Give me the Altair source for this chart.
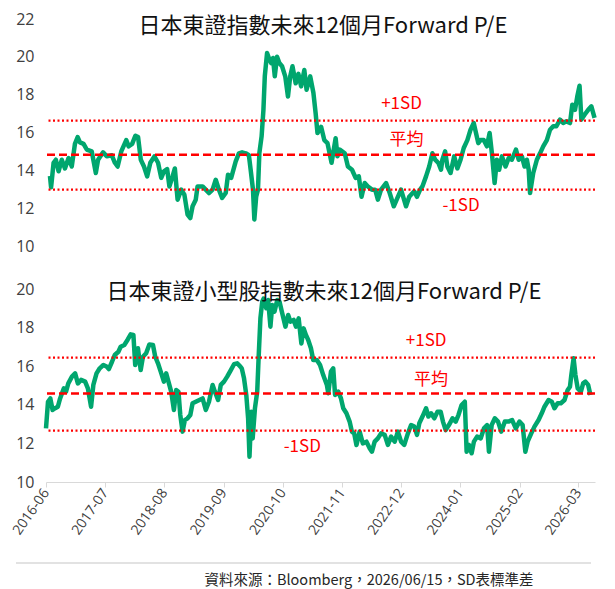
import altair as alt
import pandas as pd

START = pd.Timestamp("2016-06-01")
DAYS_PER_MONTH = 30.4375

# ---- data (months after 2016-06, P/E) ----
top_months = [0.0, 0.25, 0.8, 1.3, 1.9, 2.6, 3.3, 4.1, 4.8, 5.5, 6.1, 6.6, 7.4, 8.1, 9.2, 10.1, 10.6,
              11.7, 12.5, 13.6, 14.3, 14.9, 15.7, 16.8, 17.3, 18.1, 18.8, 19.4, 20.0, 20.7, 21.4, 22.1,
              23.0, 23.8, 24.5, 25.1, 25.8, 26.3, 27.0, 27.5, 28.1, 28.9, 29.6, 30.3, 30.9, 31.4, 32.1,
              32.5, 33.6, 34.3, 35.0, 35.8, 36.5, 37.2, 37.9, 38.7, 39.2, 39.9, 40.9, 41.6, 42.3, 43.1,
              43.8, 44.2, 44.7, 45.0, 45.4, 45.8, 46.1, 46.6, 47.0, 47.3, 47.8, 48.2, 48.7, 49.1, 49.5,
              50.0, 50.5, 51.1, 51.8, 52.4, 52.9, 53.4, 54.1, 54.7, 55.3, 56.0, 56.5, 57.3, 58.0, 58.5,
              58.9, 59.7, 60.4, 61.1, 62.0, 62.9, 63.3, 63.8, 64.9, 65.6, 66.5, 67.3, 68.0, 68.6, 69.3,
              70.0, 70.9, 71.6, 72.2, 72.9, 74.0, 74.8, 75.7, 76.6, 77.3, 78.4, 79.1, 80.2, 80.8, 81.5,
              82.0, 82.8, 83.5, 84.2, 84.8, 85.5, 86.1, 86.4, 87.0, 87.5, 88.2, 89.0, 89.7, 90.4, 91.1,
              91.9, 92.6, 93.3, 93.8, 94.3, 94.8, 95.5, 96.2, 96.8, 97.3, 97.9, 98.4, 98.9, 99.5, 100.3,
              101.0, 101.7, 102.6, 103.2, 103.9, 104.5, 105.0, 105.4, 105.7, 106.4, 107.2, 107.9, 108.6,
              109.4, 110.1, 110.8, 111.5, 112.3, 113.0, 113.7, 114.5, 115.0, 115.6, 116.1, 116.6, 117.0,
              117.7, 118.5, 119.2, 119.9]
top_values = [13.7, 13.1, 14.4, 14.56, 13.95, 14.56, 14.1, 14.65, 14.2, 15.4, 15.76, 15.48, 15.4, 15.1,
              15.0, 13.86, 14.56, 14.95, 14.74, 14.8, 14.4, 14.2, 15.0, 15.6, 15.27, 15.4, 15.83, 15.76,
              14.56, 14.2, 13.68, 14.4, 14.74, 14.4, 13.6, 13.95, 14.07, 13.15, 13.68, 14.1, 12.45, 12.98,
              12.71, 11.66, 11.48, 12.1, 12.45, 13.15, 13.15, 12.98, 12.8, 12.98, 13.5, 12.98, 12.54, 12.8,
              13.77, 13.6, 14.47, 14.9, 14.95, 14.9, 14.8, 14.0, 12.98, 11.4, 12.6, 12.98, 14.9, 15.8,
              17.2, 18.97, 20.2, 19.94, 19.67, 19.94, 18.97, 20.0, 19.67, 19.5, 18.97, 17.9, 18.97, 19.5,
              18.6, 19.1, 18.44, 19.3, 18.26, 18.97, 18.1, 17.0, 15.97, 16.3, 15.6, 15.44, 14.4, 15.7,
              14.74, 15.1, 14.9, 14.2, 14.03, 13.6, 13.68, 12.6, 13.33, 13.15, 12.98, 12.98, 12.45, 12.98,
              13.33, 12.8, 12.1, 12.6, 12.98, 12.1, 12.6, 12.89, 12.6, 12.98, 13.15, 13.68, 14.2, 14.9,
              14.56, 14.4, 14.03, 14.56, 15.0, 14.2, 13.86, 14.74, 14.1, 14.56, 15.18, 15.6, 16.15, 16.5,
              15.97, 15.44, 15.6, 15.6, 15.27, 15.97, 14.9, 13.33, 14.56, 14.03, 14.74, 14.2, 14.65,
              14.56, 15.1, 14.56, 14.74, 14.2, 14.56, 14.03, 12.8, 13.86, 14.56, 14.9, 15.27, 15.6, 16.15,
              16.33, 16.33, 16.68, 16.5, 16.59, 16.5, 17.47, 17.2, 17.9, 18.47, 16.68, 16.94, 17.2, 17.38,
              16.77]

bottom_months = [0.0, 0.44, 0.95, 1.45, 2.0, 2.6, 3.1, 3.9, 4.4, 4.9, 5.7, 6.4, 7.0, 7.7, 8.6, 9.2, 9.9,
                 10.4, 11.1, 11.8, 12.6, 13.3, 13.8, 14.5, 15.1, 15.9, 16.4, 17.2, 17.9, 18.6, 19.2, 19.6,
                 20.2, 20.8, 21.3, 22.0, 22.7, 23.5, 24.0, 24.6, 25.2, 25.9, 26.4, 26.9, 27.5, 28.1, 28.6,
                 29.1, 29.5, 30.0, 30.5, 31.1, 31.7, 32.2, 32.9, 33.7, 34.4, 35.1, 35.8, 36.6, 37.1, 37.8,
                 38.4, 39.1, 39.8, 40.6, 41.3, 42.0, 42.7, 43.0, 43.5, 44.0, 44.4, 44.7, 45.1, 45.4, 45.9,
                 46.4, 46.7, 47.1, 47.5, 47.8, 48.4, 48.8, 49.3, 49.7, 50.2, 50.8, 51.3, 51.8, 52.6, 53.2,
                 53.7, 54.4, 54.9, 55.5, 56.1, 56.6, 57.1, 57.6, 58.2, 58.7, 59.5, 60.2, 60.9, 61.7, 62.0,
                 62.6, 63.1, 63.5, 64.2, 64.8, 65.3, 66.0, 66.7, 67.2, 67.7, 68.2, 68.9, 69.6, 70.4, 71.1,
                 71.6, 72.2, 72.9, 73.6, 74.4, 75.1, 75.8, 76.6, 77.3, 78.0, 78.7, 79.5, 80.2, 80.9, 81.5,
                 82.0, 82.7, 83.5, 84.0, 84.6, 85.3, 86.0, 86.7, 87.2, 87.8, 88.5, 89.3, 90.0, 90.6, 91.3,
                 92.0, 92.4, 92.9, 93.5, 94.0, 94.7, 95.5, 96.2, 96.9, 97.3, 97.9, 98.6, 99.3, 100.0,
                 100.8, 101.6, 102.4, 103.2, 104.0, 104.7, 105.3, 105.8, 106.6, 107.3, 108.2, 108.9,
                 109.5, 110.4, 111.1, 111.7, 112.4, 113.1, 113.9, 114.6, 115.1, 115.4, 115.9, 116.3,
                 116.8, 117.5, 118.0, 118.5, 119.1, 119.6]
bottom_values = [12.78, 14.16, 14.33, 13.73, 13.82, 13.9, 14.33, 14.85, 14.68, 15.11, 15.46, 15.63,
                 15.11, 15.29, 15.2, 14.85, 13.9, 15.03, 15.63, 15.89, 16.06, 15.98, 15.85, 16.23, 16.58,
                 16.75, 17.01, 17.1, 17.36, 17.65, 17.62, 16.06, 16.93, 15.8, 16.49, 16.67, 17.13, 17.1,
                 16.49, 16.15, 15.72, 15.2, 15.63, 15.2, 14.68, 13.73, 14.77, 14.68, 13.47, 12.61, 13.21,
                 13.3, 13.47, 14.08, 14.16, 14.25, 14.33, 13.73, 14.16, 15.03, 14.68, 14.25, 15.03, 15.2,
                 15.46, 15.8, 16.1, 16.15, 15.98, 15.89, 15.37, 14.51, 13.3, 11.31, 13.64, 12.26, 13.82,
                 14.68, 16.41, 18.48, 19.34, 19.5, 19.0, 19.43, 18.05, 19.17, 18.83, 19.43, 19.34, 18.83,
                 18.05, 18.65, 18.31, 18.4, 18.05, 18.48, 17.18, 17.96, 17.62, 17.36, 16.93, 16.32, 16.32,
                 16.06, 15.54, 15.03, 14.6, 15.72, 15.89, 14.51, 14.68, 14.33, 13.82, 13.56, 13.13, 12.61,
                 12.52, 11.92, 12.61, 12.0, 12.09, 11.75, 11.57, 12.09, 12.26, 12.52, 12.44, 11.92, 12.35,
                 12.09, 12.61, 12.09, 11.92, 12.52, 12.95, 12.87, 12.44, 13.04, 13.39, 13.82, 13.39, 13.56,
                 13.3, 13.64, 13.64, 13.13, 12.69, 12.95, 13.3, 13.13, 13.47, 13.99, 14.16, 11.57, 11.92,
                 11.49, 12.09, 12.35, 12.26, 12.78, 12.95, 11.57, 12.95, 13.3, 13.13, 12.61, 13.13, 13.13,
                 13.21, 12.78, 13.13, 12.95, 11.57, 12.09, 12.52, 12.87, 13.21, 13.56, 13.9, 14.25, 14.16,
                 13.82, 14.08, 14.08, 14.25, 14.77, 14.94, 15.54, 16.41, 15.54, 14.85, 14.68, 15.11, 15.2,
                 15.03, 14.51]

tick_labels = ["2016-06", "2017-07", "2018-08", "2019-09", "2020-10",
               "2021-11", "2022-12", "2024-01", "2025-02", "2026-03"]

top_title = "日本東證指數未來12個月Forward P/E"
bottom_title = "日本東證小型股指數未來12個月Forward P/E"
source_text = "資料來源：Bloomberg，2026/06/15，SD表標準差"

band_labels = ["+1SD", "平均", "-1SD"]
top_bands = [16.63, 14.83, 12.98]
bottom_bands = [16.44, 14.58, 12.66]
top_label_months = [77.4, 78.5, 90.5]
top_label_values = [17.5, 15.6, 12.12]
bottom_label_months = [83.5, 84.6, 56.3]
bottom_label_values = [17.3, 15.28, 11.81]

top_y_ticks = [10, 12, 14, 16, 18, 20, 22]
bottom_y_ticks = [10, 12, 14, 16, 18, 20]

GREEN = "#00A66E"
RED = "#FF0000"
CJK = "Noto Sans CJK TC"
NUM = "Open Sans"
W = 549


def to_dates(months):
    return [START + pd.Timedelta(days=m * DAYS_PER_MONTH) for m in months]


def dt(ts):
    return alt.DateTime(year=ts.year, month=ts.month, date=ts.day, hours=ts.hour)


tick_values = [alt.DateTime(year=int(s[:4]), month=int(s[5:7]), date=1) for s in tick_labels]


def panel(months, values, bands, lab_m, lab_v, title, ydom, yticks, height, xdom_m,
          show_x, title_x, title_y, footer):
    df = pd.DataFrame({"date": to_dates(months), "pe": values})
    xd = to_dates(xdom_m)
    xscale = alt.Scale(domain=[dt(xd[0]), dt(xd[1])])
    if show_x:
        xaxis = alt.Axis(values=tick_values, format="%Y-%m", labelAngle=-55, labelFont=NUM,
                         labelFontSize=14, labelColor="#404040", domainColor="#d9d9d9",
                         tickColor="#d9d9d9", tickSize=5, labelPadding=3, grid=False,
                         labelOverlap=False, labelFlush=False)
    else:
        xaxis = None
    yscale = alt.Scale(domain=ydom, nice=False, zero=False)
    yaxis = alt.Axis(values=yticks, domain=False, ticks=False, grid=False, labelFont=NUM,
                     labelFontSize=16, labelColor="#404040", labelPadding=12,
                     labelOverlap=False, labelFlush=False)
    X = lambda f: alt.X(f, scale=xscale, axis=xaxis, title=None)
    Y = lambda f: alt.Y(f, scale=yscale, axis=yaxis, title=None)

    line = alt.Chart(df).mark_line(color=GREEN, strokeWidth=4.5, strokeJoin="round").encode(
        x=X("date:T"), y=Y("pe:Q"))
    sd_df = pd.DataFrame({"v": [bands[0], bands[2]]})
    mean_df = pd.DataFrame({"v": [bands[1]]})
    sd_rule = alt.Chart(sd_df).mark_rule(color=RED, strokeWidth=2.2, strokeDash=[2, 2.5]).encode(
        y=Y("v:Q"))
    mean_rule = alt.Chart(mean_df).mark_rule(color=RED, strokeWidth=2.5, strokeDash=[8, 4]).encode(
        y=Y("v:Q"))
    lab_df = pd.DataFrame({"date": to_dates(lab_m), "v": lab_v, "label": band_labels})
    labels = alt.Chart(lab_df).mark_text(color=RED, font=CJK, fontSize=17).encode(
        x=X("date:T"), y=Y("v:Q"), text="label:N")
    title_df = pd.DataFrame({"t": [title]})
    title_mark = alt.Chart(title_df).mark_text(font=CJK, fontSize=22, color="#111111",
                                               align="center", baseline="middle").encode(
        x=alt.value(title_x), y=alt.value(title_y), text="t:N")
    layers = [line, sd_rule, mean_rule, labels, title_mark]
    if footer:
        foot_df = pd.DataFrame({"t": [source_text]})
        foot_rule = alt.Chart(foot_df).mark_rule(color="#d9d9d9", strokeWidth=1.5).encode(
            x=alt.value(-30), x2=alt.value(545), y=alt.value(274))
        foot_text = alt.Chart(foot_df).mark_text(font=CJK, fontSize=14.5, color="#262626",
                                                 align="center", baseline="middle").encode(
            x=alt.value(323), y=alt.value(292), text="t:N")
        layers += [foot_rule, foot_text]
    return alt.layer(*layers).properties(width=W, height=height)


top = panel(top_months, top_values, top_bands, top_label_months, top_label_values, top_title,
            [10, 22], top_y_ticks, 227, [-0.87, 120.0], False, 277, 7, False)
bottom = panel(bottom_months, bottom_values, bottom_bands, bottom_label_months, bottom_label_values,
               bottom_title, [10, 20], bottom_y_ticks, 193, [0.0, 120.6], True, 278, 3, True)

chart = alt.vconcat(top, bottom, spacing=43, bounds="flush").resolve_scale(
    x="independent", y="independent"
).properties(
    padding={"left": 2, "top": 3, "right": 5, "bottom": 5}
).configure(font=CJK).configure_view(stroke=None)

chart.save("out.html", embed_options={"renderer": "svg", "actions": False})
